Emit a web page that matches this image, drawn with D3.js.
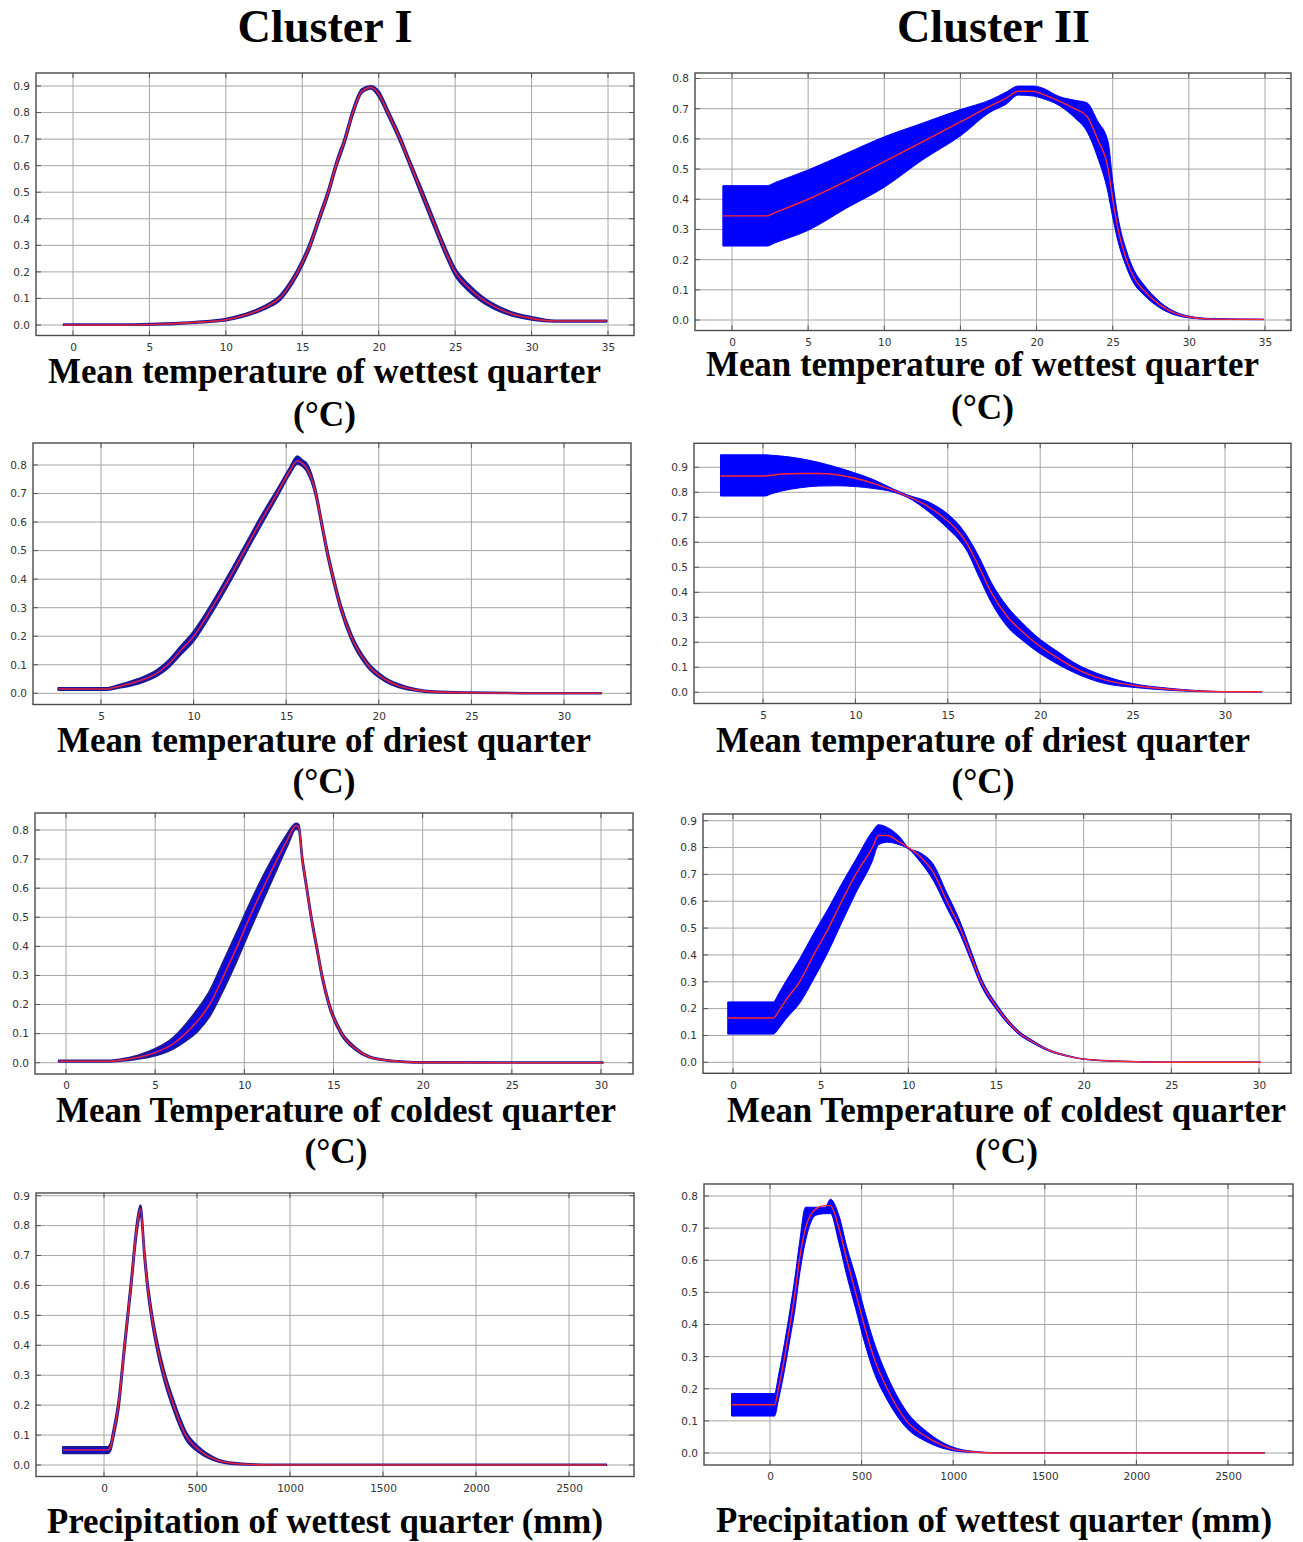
<!DOCTYPE html>
<html>
<head>
<meta charset="utf-8">
<script src="https://cdn.jsdelivr.net/npm/d3@7"></script>
<style>
  body { margin: 0; background: #fff; }
  svg { display: block; }
</style>
</head>
<body>
<script>
// ---- data (x, mean, band low, band high) ----

// Cluster I - mean temperature of wettest quarter
const c1WetX    = [-0.6, 3.5, 6, 8, 10, 11, 12, 13, 13.5, 14, 14.7, 15.5, 16.1, 16.7, 17.2, 17.8, 18.3, 18.9, 19.5, 20, 20.6, 21.4, 22.1, 22.8, 23.5, 24.2, 25.0, 25.8, 26.7, 28.3, 30, 31.5, 34.9];
const c1WetMean = [0, 0, 0.004, 0.01, 0.02, 0.033, 0.052, 0.08, 0.1, 0.135, 0.2, 0.3, 0.4, 0.5, 0.6, 0.7, 0.8, 0.88, 0.895, 0.87, 0.8, 0.7, 0.6, 0.5, 0.4, 0.3, 0.2, 0.145, 0.1, 0.05, 0.025, 0.015, 0.015];
const c1WetLo   = [0, 0, 0.002, 0.008, 0.017, 0.029, 0.047, 0.073, 0.092, 0.126, 0.19, 0.29, 0.39, 0.49, 0.59, 0.69, 0.79, 0.875, 0.89, 0.86, 0.79, 0.69, 0.59, 0.487, 0.387, 0.287, 0.187, 0.133, 0.09, 0.043, 0.02, 0.013, 0.013];
const c1WetHi   = [0.002, 0.002, 0.006, 0.012, 0.023, 0.037, 0.057, 0.087, 0.108, 0.144, 0.21, 0.31, 0.41, 0.51, 0.61, 0.71, 0.81, 0.888, 0.9, 0.88, 0.81, 0.71, 0.61, 0.513, 0.413, 0.313, 0.213, 0.157, 0.11, 0.057, 0.03, 0.017, 0.017];

// Cluster II - mean temperature of wettest quarter
const c2WetX    = [-0.6, 2.3, 2.8, 5, 7.5, 10, 12.5, 15, 17, 18, 18.8, 19.8, 20.3, 21.5, 22.5, 23.3, 24.0, 24.7, 25.0, 25.35, 25.9, 26.4, 27.0, 28.1, 29.2, 30, 31.5, 34.9];
const c2WetMean = [0.345, 0.345, 0.355, 0.40, 0.46, 0.525, 0.59, 0.656, 0.71, 0.735, 0.758, 0.758, 0.75, 0.725, 0.70, 0.675, 0.6, 0.5, 0.4, 0.3, 0.2, 0.14, 0.1, 0.05, 0.02, 0.01, 0.003, 0.002];
const c2WetLo   = [0.245, 0.245, 0.255, 0.297, 0.37, 0.44, 0.53, 0.61, 0.69, 0.715, 0.745, 0.742, 0.735, 0.71, 0.67, 0.625, 0.54, 0.42, 0.34, 0.26, 0.175, 0.12, 0.085, 0.04, 0.015, 0.007, 0.002, 0.001];
const c2WetHi   = [0.445, 0.445, 0.455, 0.497, 0.552, 0.607, 0.652, 0.697, 0.73, 0.755, 0.775, 0.775, 0.77, 0.74, 0.728, 0.72, 0.66, 0.59, 0.46, 0.34, 0.23, 0.165, 0.12, 0.06, 0.025, 0.013, 0.005, 0.003];

// Cluster I - mean temperature of driest quarter
const c1DryX    = [2.7, 5.2, 6, 7, 8, 8.6, 9.3, 10, 11, 11.9, 12.75, 13.6, 14.5, 15.2, 15.6, 15.9, 16.1, 16.6, 16.9, 17.2, 17.55, 17.95, 18.5, 19.4, 20.3, 21, 22, 23, 25, 28, 32];
const c1DryMean = [0.015, 0.015, 0.025, 0.042, 0.07, 0.1, 0.15, 0.2, 0.3, 0.4, 0.5, 0.6, 0.7, 0.78, 0.815, 0.805, 0.79, 0.7, 0.6, 0.5, 0.4, 0.3, 0.2, 0.1, 0.05, 0.028, 0.012, 0.005, 0.002, 0, 0];
const c1DryLo   = [0.012, 0.012, 0.02, 0.034, 0.06, 0.088, 0.136, 0.184, 0.284, 0.384, 0.485, 0.585, 0.688, 0.77, 0.805, 0.795, 0.78, 0.69, 0.59, 0.49, 0.39, 0.29, 0.19, 0.092, 0.044, 0.023, 0.009, 0.003, 0.001, 0, 0];
const c1DryHi   = [0.018, 0.018, 0.03, 0.05, 0.08, 0.112, 0.164, 0.216, 0.316, 0.416, 0.515, 0.615, 0.712, 0.79, 0.83, 0.815, 0.805, 0.71, 0.61, 0.51, 0.41, 0.31, 0.21, 0.108, 0.056, 0.033, 0.015, 0.007, 0.003, 0.001, 0.001];

// Cluster II - mean temperature of driest quarter
const c2DryX    = [2.7, 5.1, 5.5, 6, 7, 8, 9, 10, 11, 12, 12.8, 14, 15, 15.6, 16.0, 16.7, 17.35, 18.25, 19.0, 19.7, 21, 21.8, 23.5, 25, 27, 28.5, 30, 32];
const c2DryMean = [0.865, 0.865, 0.868, 0.873, 0.875, 0.875, 0.87, 0.856, 0.835, 0.81, 0.785, 0.74, 0.685, 0.64, 0.6, 0.5, 0.4, 0.3, 0.245, 0.2, 0.135, 0.1, 0.05, 0.028, 0.012, 0.005, 0.002, 0.002];
const c2DryLo   = [0.785, 0.785, 0.795, 0.805, 0.818, 0.825, 0.826, 0.823, 0.815, 0.802, 0.78, 0.72, 0.655, 0.61, 0.57, 0.46, 0.36, 0.26, 0.21, 0.17, 0.11, 0.08, 0.035, 0.02, 0.008, 0.003, 0.001, 0.001];
const c2DryHi   = [0.95, 0.95, 0.948, 0.945, 0.935, 0.92, 0.9, 0.877, 0.85, 0.815, 0.79, 0.76, 0.713, 0.67, 0.63, 0.54, 0.44, 0.34, 0.28, 0.23, 0.16, 0.12, 0.065, 0.035, 0.016, 0.007, 0.003, 0.003];

// Cluster I - mean temperature of coldest quarter
const c1ColdX    = [-0.4, 2.5, 3, 4, 5, 6, 6.7, 7.4, 8.05, 8.85, 9.6, 10.3, 11.05, 11.85, 12.4, 12.9, 13.05, 13.25, 13.5, 13.75, 14.05, 14.35, 14.75, 15.45, 16.2, 17, 18, 19, 20, 25, 30.1];
const c1ColdMean = [0.005, 0.005, 0.008, 0.018, 0.035, 0.065, 0.1, 0.145, 0.2, 0.3, 0.4, 0.5, 0.6, 0.7, 0.765, 0.815, 0.81, 0.7, 0.6, 0.5, 0.4, 0.3, 0.2, 0.1, 0.05, 0.02, 0.008, 0.003, 0.001, 0, 0];
const c1ColdLo   = [0.004, 0.004, 0.006, 0.013, 0.025, 0.048, 0.075, 0.11, 0.16, 0.255, 0.355, 0.455, 0.56, 0.67, 0.745, 0.805, 0.8, 0.692, 0.592, 0.492, 0.392, 0.292, 0.193, 0.095, 0.046, 0.018, 0.007, 0.002, 0, 0, 0];
const c1ColdHi   = [0.007, 0.007, 0.011, 0.024, 0.047, 0.085, 0.13, 0.185, 0.245, 0.35, 0.45, 0.545, 0.64, 0.73, 0.785, 0.822, 0.818, 0.708, 0.608, 0.508, 0.408, 0.308, 0.207, 0.105, 0.054, 0.022, 0.009, 0.004, 0.002, 0.001, 0.001];

// Cluster II - mean temperature of coldest quarter
const c2ColdX    = [-0.3, 2.3, 2.6, 3, 3.8, 4.6, 5.45, 6.2, 7.0, 7.95, 8.3, 8.8, 9.5, 10, 10.7, 11.4, 12.2, 12.95, 13.55, 14.15, 15.1, 16.5, 17, 18, 19, 20, 22, 25, 30.1];
const c2ColdMean = [0.165, 0.165, 0.19, 0.23, 0.3, 0.4, 0.5, 0.6, 0.7, 0.8, 0.845, 0.845, 0.82, 0.8, 0.765, 0.71, 0.6, 0.5, 0.4, 0.3, 0.2, 0.1, 0.08, 0.045, 0.025, 0.012, 0.004, 0, 0];
const c2ColdLo   = [0.105, 0.105, 0.125, 0.16, 0.22, 0.31, 0.415, 0.52, 0.63, 0.75, 0.81, 0.82, 0.81, 0.795, 0.745, 0.68, 0.575, 0.478, 0.382, 0.286, 0.19, 0.094, 0.075, 0.042, 0.023, 0.011, 0.003, 0, 0];
const c2ColdHi   = [0.225, 0.225, 0.255, 0.3, 0.385, 0.48, 0.575, 0.665, 0.755, 0.86, 0.885, 0.875, 0.84, 0.8, 0.78, 0.74, 0.63, 0.525, 0.42, 0.315, 0.21, 0.106, 0.085, 0.048, 0.027, 0.013, 0.005, 0.001, 0.001];

// Cluster I - precipitation of wettest quarter
const c1PrecX    = [-220, 20, 35, 49, 78, 111, 145, 178, 196, 218, 234, 256, 285, 323, 374, 439, 512, 600, 700, 900, 2700];
const c1PrecMean = [0.05, 0.05, 0.06, 0.1, 0.2, 0.4, 0.6, 0.8, 0.855, 0.7, 0.6, 0.5, 0.4, 0.3, 0.2, 0.1, 0.05, 0.018, 0.005, 0, 0];
const c1PrecLo   = [0.04, 0.04, 0.05, 0.088, 0.185, 0.385, 0.585, 0.785, 0.842, 0.685, 0.585, 0.485, 0.385, 0.285, 0.185, 0.088, 0.042, 0.014, 0.003, 0, 0];
const c1PrecHi   = [0.06, 0.06, 0.07, 0.112, 0.215, 0.415, 0.615, 0.815, 0.868, 0.715, 0.615, 0.515, 0.415, 0.315, 0.215, 0.112, 0.058, 0.022, 0.007, 0.001, 0.001];

// Cluster II - precipitation of wettest quarter
const c2PrecX    = [-210, 25, 46, 80, 109, 137, 160, 194, 250, 300, 330, 376, 420, 467, 513, 565, 640, 745, 855, 1000, 1100, 1250, 2700];
const c2PrecMean = [0.15, 0.15, 0.2, 0.3, 0.4, 0.5, 0.6, 0.7, 0.76, 0.77, 0.77, 0.7, 0.6, 0.5, 0.4, 0.3, 0.2, 0.1, 0.05, 0.012, 0.004, 0, 0];
const c2PrecLo   = [0.115, 0.115, 0.165, 0.26, 0.355, 0.45, 0.55, 0.66, 0.74, 0.745, 0.745, 0.655, 0.55, 0.45, 0.35, 0.255, 0.165, 0.078, 0.035, 0.007, 0.002, 0, 0];
const c2PrecHi   = [0.185, 0.185, 0.24, 0.345, 0.445, 0.55, 0.65, 0.765, 0.765, 0.765, 0.79, 0.74, 0.64, 0.55, 0.45, 0.35, 0.24, 0.13, 0.067, 0.018, 0.006, 0.001, 0.001];

// tick labels
const tempTicks35 = [0, 5, 10, 15, 20, 25, 30, 35];
const tempTicks5to30 = [5, 10, 15, 20, 25, 30];
const tempTicks30 = [0, 5, 10, 15, 20, 25, 30];
const precTicks = [0, 500, 1000, 1500, 2000, 2500];
const yTicks09 = [0, 0.1, 0.2, 0.3, 0.4, 0.5, 0.6, 0.7, 0.8, 0.9];
const yTicks08 = [0, 0.1, 0.2, 0.3, 0.4, 0.5, 0.6, 0.7, 0.8];

const clusterNames = ["Cluster I", "Cluster II"];
const wetTitle  = ["Mean temperature of wettest quarter", "(°C)"];
const dryTitle  = ["Mean temperature of driest quarter", "(°C)"];
const coldTitle = ["Mean Temperature of coldest quarter", "(°C)"];
const precTitle = ["Precipitation of wettest quarter (mm)"];

const W = 1303, H = 1542;

const svg = d3.select("body").append("svg")
  .attr("width", W)
  .attr("height", H);

svg.append("rect").attr("width", W).attr("height", H).attr("fill", "#fff");

// layout of each panel: frame box, pixel anchors of the scales, title placement
const panels = [
  { id: "p1", cluster: 1, x: c1WetX, mean: c1WetMean, lo: c1WetLo, hi: c1WetHi,
    frame: [36, 73, 634, 335.5], xDom: [0, 35], xPx: [73, 608], xTicks: tempTicks35,
    yMax: 0.9, yPx: [325, 86], yTicks: yTicks09,
    title: wetTitle, tx: 324.5, ty: [383, 426], tw: [553, 63] },
  { id: "p2", cluster: 2, x: c2WetX, mean: c2WetMean, lo: c2WetLo, hi: c2WetHi,
    frame: [695, 73, 1291, 330.5], xDom: [0, 35], xPx: [732, 1265], xTicks: tempTicks35,
    yMax: 0.8, yPx: [320, 78.5], yTicks: yTicks08,
    title: wetTitle, tx: 982.5, ty: [376, 419], tw: [553, 63] },
  { id: "p3", cluster: 1, x: c1DryX, mean: c1DryMean, lo: c1DryLo, hi: c1DryHi,
    frame: [33, 443, 631, 704.5], xDom: [5, 30], xPx: [101, 564], xTicks: tempTicks5to30,
    yMax: 0.8, yPx: [693.3, 465], yTicks: yTicks08,
    title: dryTitle, tx: 324, ty: [752, 793], tw: [534, 63] },
  { id: "p4", cluster: 2, x: c2DryX, mean: c2DryMean, lo: c2DryLo, hi: c2DryHi,
    frame: [694, 443.3, 1291, 703.5], xDom: [5, 30], xPx: [763, 1225], xTicks: tempTicks5to30,
    yMax: 0.9, yPx: [692.3, 467.3], yTicks: yTicks09,
    title: dryTitle, tx: 983, ty: [752, 793], tw: [534, 63] },
  { id: "p5", cluster: 1, x: c1ColdX, mean: c1ColdMean, lo: c1ColdLo, hi: c1ColdHi,
    frame: [35, 813, 633, 1074], xDom: [0, 30], xPx: [66, 601], xTicks: tempTicks30,
    yMax: 0.8, yPx: [1062.7, 830], yTicks: yTicks08,
    title: coldTitle, tx: 336, ty: [1122, 1163], tw: [560, 63] },
  { id: "p6", cluster: 2, x: c2ColdX, mean: c2ColdMean, lo: c2ColdLo, hi: c2ColdHi,
    frame: [703, 814, 1291, 1073.3], xDom: [0, 30], xPx: [733, 1259], xTicks: tempTicks30,
    yMax: 0.9, yPx: [1062.3, 820.7], yTicks: yTicks09,
    title: coldTitle, tx: 1006.5, ty: [1122, 1163], tw: [559, 63] },
  { id: "p7", cluster: 1, x: c1PrecX, mean: c1PrecMean, lo: c1PrecLo, hi: c1PrecHi,
    frame: [36, 1193, 634, 1476.5], xDom: [0, 2500], xPx: [104, 569], xTicks: precTicks,
    yMax: 0.9, yPx: [1465, 1195.7], yTicks: yTicks09,
    title: precTitle, tx: 325, ty: [1533], tw: [556] },
  { id: "p8", cluster: 2, x: c2PrecX, mean: c2PrecMean, lo: c2PrecLo, hi: c2PrecHi,
    frame: [704, 1184, 1293, 1465], xDom: [0, 2500], xPx: [770, 1228], xTicks: precTicks,
    yMax: 0.8, yPx: [1453, 1196], yTicks: yTicks08,
    title: precTitle, tx: 994, ty: [1532], tw: [556] }
];

// column headers
svg.selectAll("text.cluster")
  .data(clusterNames)
  .join("text")
    .attr("class", "cluster")
    .attr("x", (d, i) => i === 0 ? 325 : 993.5)
    .attr("y", 42)
    .attr("text-anchor", "middle")
    .attr("textLength", (d, i) => i === 0 ? 175 : 193)
    .attr("lengthAdjust", "spacingAndGlyphs")
    .style("font-family", "'Liberation Serif', 'Times New Roman', serif")
    .style("font-weight", "bold")
    .style("font-size", "47px")
    .style("fill", "#000")
    .text(d => d);

function drawPanel(p) {
  const [fx0, fy0, fx1, fy1] = p.frame;

  const x = d3.scaleLinear().domain(p.xDom).range(p.xPx);
  const y = d3.scaleLinear().domain([0, p.yMax]).range(p.yPx);

  const g = svg.append("g").attr("class", "panel " + p.id);

  g.append("clipPath").attr("id", "clip-" + p.id)
    .append("rect")
      .attr("x", fx0).attr("y", fy0)
      .attr("width", fx1 - fx0).attr("height", fy1 - fy0);

  // grid
  g.append("g").selectAll("line")
    .data(p.xTicks)
    .join("line")
      .attr("x1", d => x(d)).attr("x2", d => x(d))
      .attr("y1", fy0).attr("y2", fy1)
      .attr("stroke", "#a6a6a6").attr("stroke-width", 1);

  g.append("g").selectAll("line")
    .data(p.yTicks)
    .join("line")
      .attr("x1", fx0).attr("x2", fx1)
      .attr("y1", d => y(d)).attr("y2", d => y(d))
      .attr("stroke", "#a6a6a6").attr("stroke-width", 1);

  // small dark ticks on the inside of the frame
  const tk = 5;
  const tickG = g.append("g").attr("stroke", "#555").attr("stroke-width", 1);
  p.xTicks.forEach(d => {
    tickG.append("line").attr("x1", x(d)).attr("x2", x(d)).attr("y1", fy0).attr("y2", fy0 + tk);
    tickG.append("line").attr("x1", x(d)).attr("x2", x(d)).attr("y1", fy1).attr("y2", fy1 - tk);
  });
  p.yTicks.forEach(d => {
    tickG.append("line").attr("x1", fx0).attr("x2", fx0 + tk).attr("y1", y(d)).attr("y2", y(d));
    tickG.append("line").attr("x1", fx1).attr("x2", fx1 - tk).attr("y1", y(d)).attr("y2", y(d));
  });

  const pts = p.x.map((v, i) => ({ x: v, m: p.mean[i], lo: p.lo[i], hi: p.hi[i] }));

  const band = d3.area()
    .x(d => x(d.x))
    .y0(d => y(d.lo))
    .y1(d => y(d.hi))
    .curve(d3.curveMonotoneX);

  const line = d3.line()
    .x(d => x(d.x))
    .y(d => y(d.m))
    .curve(d3.curveMonotoneX);

  const plot = g.append("g").attr("clip-path", `url(#clip-${p.id})`);

  if (p.cluster === 1) {
    plot.append("path")
      .attr("d", band(pts))
      .attr("fill", "#0a0ae6")
      .attr("stroke", "#1a1a96")
      .attr("stroke-width", 2.2)
      .attr("stroke-linejoin", "round");
    plot.append("path")
      .attr("d", line(pts))
      .attr("fill", "none")
      .attr("stroke", "#e4203c")
      .attr("stroke-width", 1.6);
  } else {
    plot.append("path")
      .attr("d", band(pts))
      .attr("fill", "#0000ff")
      .attr("stroke", "#0000ff")
      .attr("stroke-width", 1);
    plot.append("path")
      .attr("d", line(pts))
      .attr("fill", "none")
      .attr("stroke", "#ff2a2a")
      .attr("stroke-width", 1.4);
  }

  // frame
  g.append("rect")
    .attr("x", fx0).attr("y", fy0)
    .attr("width", fx1 - fx0).attr("height", fy1 - fy0)
    .attr("fill", "none")
    .attr("stroke", "#4a4a4a")
    .attr("stroke-width", 1.4);

  // axes (labels only)
  const xAxis = d3.axisBottom(x).tickValues(p.xTicks).tickSize(0).tickPadding(8).tickFormat(d3.format("d"));
  const yAxis = d3.axisLeft(y).tickValues(p.yTicks).tickSize(0).tickPadding(6).tickFormat(d3.format(".1f"));

  const gx = g.append("g").attr("transform", `translate(0,${fy1})`).call(xAxis);
  const gy = g.append("g").attr("transform", `translate(${fx0},0)`).call(yAxis);
  [gx, gy].forEach(a => {
    a.select(".domain").remove();
    a.selectAll("text")
      .style("font-family", "'DejaVu Sans', Verdana, sans-serif")
      .style("font-size", "10.5px")
      .style("fill", "#333");
  });

  // title
  g.selectAll("text.title")
    .data(p.title)
    .join("text")
      .attr("class", "title")
      .attr("x", p.tx)
      .attr("y", (d, i) => p.ty[i])
      .attr("text-anchor", "middle")
      .attr("textLength", (d, i) => p.tw[i])
      .attr("lengthAdjust", "spacingAndGlyphs")
      .style("font-family", "'Liberation Serif', 'Times New Roman', serif")
      .style("font-weight", "bold")
      .style("font-size", "35px")
      .style("fill", "#000")
      .text(d => d);
}

panels.forEach(drawPanel);
</script>
</body>
</html>
